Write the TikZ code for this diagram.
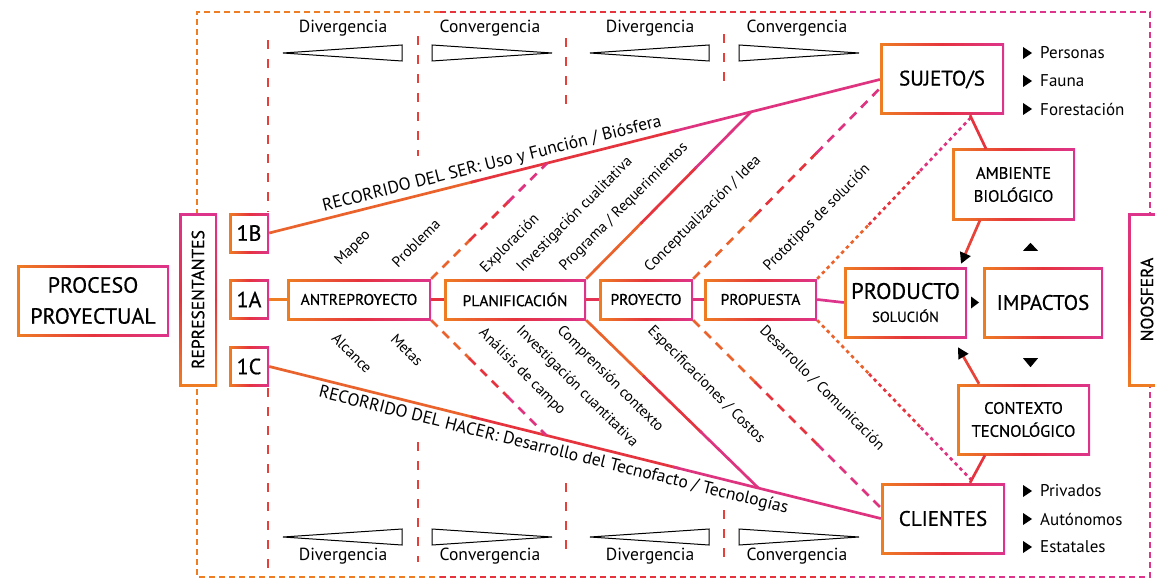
\documentclass[tikz,border=0pt]{standalone}
\usepackage{fontspec}
\setmainfont{PT Sans}
\newfontfamily\boxfont{PT Sans}[FakeBold=0.6]
\usepackage{graphicx}
\usetikzlibrary{shapes,positioning,calc,arrows.meta}

\definecolor{borange}{RGB}{238,125,35}
\definecolor{bred}{RGB}{230,52,62}
\definecolor{bpink}{RGB}{221,52,140}

\tikzset{
  gbox/.style={left color=borange, right color=bpink, middle color=bred,
    inner sep=0pt, align=center,
    path picture={\fill[white]
      ($(path picture bounding box.south west)+(2.5,-2.5)$) rectangle
      ($(path picture bounding box.north east)+(-2.5,2.5)$);}},
  rowbox/.style={gbox, minimum height=41, font=\boxfont\fontsize{15.5}{18}\selectfont},
  bigbox/.style={gbox, minimum height=71, font=\boxfont\fontsize{21}{24}\selectfont},
  twobox/.style={gbox, minimum height=71, font=\boxfont\fontsize{16.5}{23}\selectfont},
  numbox/.style={gbox, minimum width=40, minimum height=40, font=\boxfont\fontsize{22}{24}\selectfont},
  tagtext/.style={font=\fontsize{15}{18}\selectfont, inner sep=0pt},
  pathtext/.style={font=\fontsize{17.5}{20}\selectfont, inner sep=4pt},
  wedgetext/.style={font=\fontsize{17.5}{20}\selectfont, inner sep=0pt},
  bultext/.style={font=\fontsize{17}{20}\selectfont, inner sep=0pt, anchor=west},
  solidlink/.style={line width=2.7pt},
  dashlink/.style={line width=2.7pt, dash pattern=on 9pt off 7pt},
  dotlink/.style={line width=2.7pt, dash pattern=on 3.5pt off 3.5pt},
  vdash/.style={draw=bred!85!borange, line width=2.2pt, dash pattern=on 9pt off 10pt},
  framedash/.style={line width=2.5pt, dash pattern=on 6pt off 4pt},
  wedge/.style={draw=black, line width=1pt},
  headtip/.style={-{Triangle[length=11pt,width=11pt,color=black]}}
}

% linea de naranja a rosa, en tres tramos
\newcommand{\gradline}[3][solidlink]{%
  \foreach \p/\q/\c in {0/0.34/borange!65!bred, 0.33/0.67/bred, 0.66/1/bpink!85!bred}
    \draw[#1, draw=\c] ($(#2)!\p!(#3)$) -- ($(#2)!\q!(#3)$);}

\begin{document}
\begin{tikzpicture}[x=1pt,y=-1pt]
\useasboundingbox (0,0) rectangle (1155,580);

% marco exterior
\draw[framedash, draw=borange] (440,12) -- (197,12) -- (197,577) -- (440,577);
\draw[framedash, draw=bred] (440,12) -- (850,12) (440,577) -- (850,577);
\draw[framedash, draw=bpink] (850,12) -- (1150,12) -- (1150,577) -- (850,577);

% divisiones de fases
\foreach \x/\a/\b/\c/\d in {268/40/212/388/570, 418/36/156/442/562,
                            566/38/114/483/558, 724/34/87/510/563}
  \draw[vdash] (\x,\a) -- (\x,\b) (\x,\c) -- (\x,\d);

% divergencia / convergencia
\foreach \s in {0,307}{
  \draw[wedge] (283+\s,53) -- (402+\s,45) -- (402+\s,61) -- cycle;
  \draw[wedge] (552+\s,53) -- (432+\s,45) -- (432+\s,61) -- cycle;
  \draw[wedge] (283+\s,537) -- (402+\s,529) -- (402+\s,545) -- cycle;
  \draw[wedge] (552+\s,537) -- (432+\s,529) -- (432+\s,545) -- cycle;
  \node[wedgetext] (divtop\s) at (343+\s,28) {Divergencia};
  \node[wedgetext] (contop\s) at (490+\s,28) {Convergencia};
  \node[wedgetext] (divbot\s) at (343+\s,556) {Divergencia};
  \node[wedgetext] (conbot\s) at (490+\s,556) {Convergencia};
}

% cajas
\node[twobox, minimum width=152, font=\boxfont\fontsize{22}{31}\selectfont] (proceso) at (93,300.5) {PROCESO\\PROYECTUAL};
\node[gbox, top color=bpink, bottom color=borange, middle color=bred, minimum width=38,
      minimum height=173, font=\boxfont\fontsize{17.5}{20}\selectfont] (repr) at (198,299.5) {\rotatebox{90}{REPRESENTANTES}};
\node[numbox] (b1B) at (249,233) {1B};
\node[numbox] (b1A) at (249,299.5) {1A};
\node[numbox] (b1C) at (249,366.5) {1C};

\node[rowbox, minimum width=144] (antre) at (359,299.5) {ANTREPROYECTO};
\node[rowbox, minimum width=142] (plan) at (515,299.5) {PLANIFICACIÓN};
\node[rowbox, minimum width=94] (proy) at (646,299.5) {PROYECTO};
\node[rowbox, minimum width=113] (prop) at (760.5,299.5) {PROPUESTA};

\node[bigbox, minimum width=123, font=\boxfont\fontsize{22.5}{23}\selectfont] (prod) at (905.5,302.5) {PRODUCTO\\{\fontsize{14.5}{16}\selectfont SOLUCIÓN}};
\node[bigbox, minimum width=120] (imp) at (1043,302.5) {IMPACTOS};
\node[twobox, minimum width=123] (amb) at (1013.5,184.5) {AMBIENTE\\BIOLÓGICO};
\node[twobox, minimum width=133] (ctx) at (1023.5,419.5) {CONTEXTO\\TECNOLÓGICO};
\node[bigbox, minimum width=124] (suj) at (942,79.5) {SUJETO/S};
\node[bigbox, minimum width=124] (cli) at (943,518.5) {CLIENTES};
\node[gbox, top color=bpink, bottom color=borange, middle color=bred, minimum width=38,
      minimum height=173, font=\boxfont\fontsize{17.5}{20}\selectfont] (noos) at (1147,299.5) {\rotatebox{90}{NOOSFERA}};

% recorridos
\gradline{b1B.east}{suj.west}
\path (b1B.east) -- (suj.west)
  node[pathtext, sloped, above, pos=0.37] (ser) {RECORRIDO DEL SER: Uso y Función / Biósfera};
\gradline{b1C.east}{cli.west}
\path (b1C.east) -- (cli.west)
  node[pathtext, sloped, below, pos=0.47, inner sep=5pt] (hacer) {RECORRIDO DEL HACER: Desarrollo del Tecnofacto / Tecnologías};

\coordinate (js1) at ($(b1B.east)!0.455!(suj.west)$);
\coordinate (js2) at ($(b1B.east)!0.789!(suj.west)$);
\coordinate (jh1) at ($(b1C.east)!0.453!(cli.west)$);
\coordinate (jh2) at ($(b1C.east)!0.80!(cli.west)$);
\coordinate (sujin) at ($(suj.west)!0.25!(suj.south west)$);
\coordinate (sujbot) at ($(suj.south)!0.5!(suj.south east)$);
\coordinate (cliin) at ($(cli.west)!0.3!(cli.north west)$);
\coordinate (clitop) at ($(cli.north)!0.5!(cli.north east)$);

\gradline[dashlink]{antre.north east}{js1}
\gradline[dashlink]{antre.south east}{jh1}
\gradline{plan.north east}{js2}
\gradline{plan.south east}{jh2}
\gradline[dashlink]{proy.north east}{sujin}
\gradline[dashlink]{proy.south east}{cliin}
\gradline[dotlink]{prop.north east}{sujbot}
\gradline[dotlink]{prop.south east}{clitop}

% fila principal
\draw[solidlink, draw=borange] (b1A.east) -- (antre.west);
\draw[solidlink, draw=bred] (antre.east) -- (plan.west);
\draw[solidlink, draw=bred!70!bpink] (plan.east) -- (proy.west);
\draw[solidlink, draw=bpink!80!bred] (proy.east) -- (prop.west);
\draw[solidlink, draw=bpink] (prop.east) -- (prod.west);

% entorno del producto
\draw[solidlink, draw=bred] ($(suj.south)+(28,0)$) -- ($(amb.north)+(-27.5,0)$);
\draw[solidlink, draw=bred] ($(ctx.south)+(-38.5,0)$) -- ($(cli.north)+(27,0)$);
\draw[solidlink, draw=bred!80!borange, headtip] ($(amb.south)+(-33.5,0)$) -- ($(prod.north)+(55.5,-3)$);
\draw[solidlink, draw=bred!80!borange, headtip] ($(ctx.north)+(-44.5,0)$) -- ($(prod.south)+(52.5,9)$);

\fill ($(prod.east)!0.5!(imp.west)$) ++(-4,-6) -- ++(8,6) -- ++(-8,6) -- cycle;
\fill ($(imp.north)+(-12.5,-24)$) -- ++(7.5,8) -- ++(-15,0) -- cycle;
\fill ($(imp.south)+(-12.5,29)$) -- ++(7.5,-9) -- ++(-15,0) -- cycle;

% etiquetas de etapas
\node[tagtext, rotate=45] (mapeo) at (353,248) {Mapeo};
\node[tagtext, rotate=45] (problema) at (416,243) {Problema};
\node[tagtext, rotate=45] (explo) at (510,244) {Exploración};
\node[tagtext, rotate=45] (cuali) at (575,215) {Investigación cualitativa};
\node[tagtext, rotate=45] (progr) at (624,207) {Programa / Requerimientos};
\node[tagtext, rotate=45] (concep) at (703,214) {Conceptualización / Idea};
\node[tagtext, rotate=45] (proto) at (817,218) {Prototipos de solución};

\node[tagtext, rotate=-45] (alcance) at (352,353) {Alcance};
\node[tagtext, rotate=-45] (metas) at (407,350) {Metas};
\node[tagtext, rotate=-45] (analisis) at (522,372) {Análisis de campo};
\node[tagtext, rotate=-45] (cuanti) at (577,387) {Investigación cuantitativa};
\node[tagtext, rotate=-45] (compr) at (610,379) {Comprensión contexto};
\node[tagtext, rotate=-45] (espec) at (706,385) {Especificaciones / Costos};
\node[tagtext, rotate=-45] (desa) at (822,388) {Desarrollo / Comunicación};

% listas
\foreach \n/\y/\t in {p1/53/Personas, p2/81/Fauna, p3/109/Forestación,
                      c1/491/Privados, c2/519/Autónomos, c3/547/Estatales}{
  \node[bultext] (\n) at (1040,\y) {\t};
  \fill ($(\n.west)+(-17,-6)$) -- ++(9,6) -- ++(-9,6) -- cycle;
}
\end{tikzpicture}
\end{document}
